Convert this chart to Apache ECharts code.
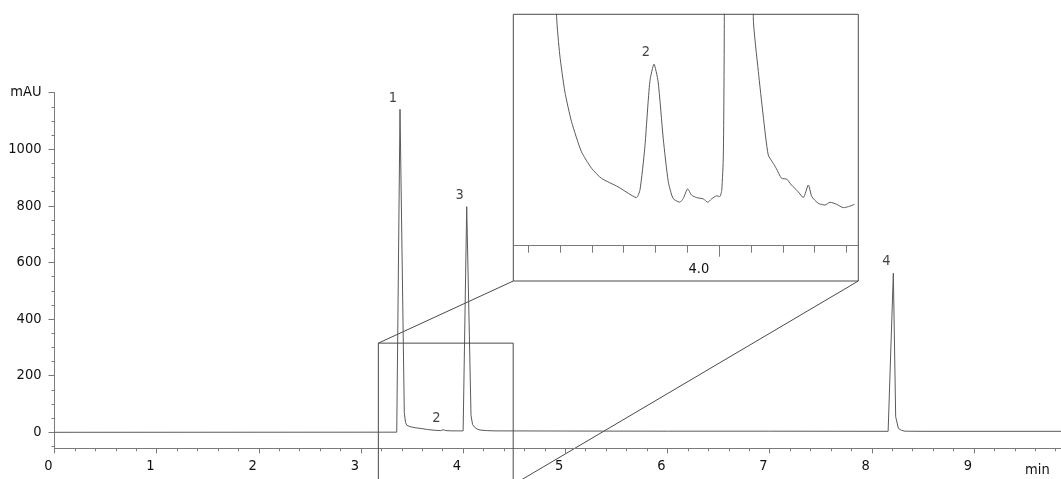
<!DOCTYPE html>
<html>
<head>
<meta charset="utf-8">
<script src="https://cdn.jsdelivr.net/npm/echarts@6.0.0/dist/echarts.min.js"></script>
<style>
  html, body { margin: 0; padding: 0; background: #fff; }
  #chart { width: 1061px; height: 479px; }
</style>
</head>
<body>
<div id="chart"></div>
<script>
// main chromatogram (min, mAU)
const mainTime = [0, 3.35, 3.359, 3.382, 3.424, 3.436, 3.448, 3.48, 3.53, 3.578, 3.65, 3.725, 3.78, 3.806, 3.83, 3.888, 3.95, 4.0, 4.011, 4.035, 4.077, 4.092, 4.109, 4.135, 4.165, 4.23, 4.312, 5.0, 6.0, 7.0, 8.16, 8.169, 8.211, 8.234, 8.26, 8.29, 8.325, 8.5, 10]
const mainAbs = [0, 0.5, 3, 1141, 70, 35, 25, 20, 16, 14, 10, 7, 6, 9, 6, 5, 5, 5, 8, 797, 60, 28, 19, 12, 8, 6, 5, 4.5, 4, 4, 3.5, 4, 562, 55, 14, 7, 4, 3.5, 3.5]

const peakNames = ['1', '2', '3', '4']
const peakTime = [3.382, 3.806, 4.035, 8.211]
const peakAbs = [1141, 9, 797, 562]

// zoomed trace (inset)
const zoomTime = [3.44, 3.47, 3.489, 3.499, 3.515, 3.536, 3.567, 3.599, 3.63, 3.682, 3.714, 3.74, 3.751, 3.766, 3.782, 3.795, 3.808, 3.824, 3.84, 3.855, 3.876, 3.887, 3.901, 3.913, 3.929, 3.95, 3.964, 3.976, 3.992, 4.002, 4.008, 4.013, 4.016, 4.03, 4.09, 4.107, 4.123, 4.138, 4.154, 4.17, 4.179, 4.196, 4.212, 4.227, 4.248, 4.264, 4.28, 4.291, 4.311, 4.332, 4.348, 4.369, 4.39, 4.406, 4.425]
const zoomAbs = [100, 15, 6.91, 5.42, 3.99, 2.82, 1.66, 1.01, 0.62, 0.29, 0.04, -0.13, 0.17, 1.79, 4.38, 5.06, 4.38, 2.18, 0.49, -0.16, -0.31, -0.16, 0.21, -0.03, -0.13, -0.18, -0.31, -0.18, -0.06, -0.09, 0.17, 1.53, 6.91, 300, 300, 6.91, 4.77, 3.08, 1.53, 1.2, 1.01, 0.62, 0.59, 0.36, 0.1, -0.13, 0.36, -0.09, -0.35, -0.42, -0.31, -0.39, -0.52, -0.48, -0.39]
const zoomPeakNames = ['2']
const zoomPeakTime = [3.795]
const zoomPeakAbs = [5.06]

// ticks
const yMajorTicks = [0, 200, 400, 600, 800, 1000, 1200]
const yMinorTicks = [-50, 50, 100, 150, 250, 300, 350, 450, 500, 550, 650, 700, 750, 850, 900, 950, 1050, 1100, 1150]
const zoomMinorTicks = [3.4, 3.5, 3.6, 3.7, 3.8, 3.9, 4.1, 4.2, 4.3, 4.4]
const zoomMajorTicks = [4.0]

// zoom window marked on the main chart
const zoomWindow = [3.17, 4.49]
const zoomRectAbs = [-185, 315]
const zoomRange = [3.353, 4.437]
const zoomAbsRange = [-2, 7]

const FONT = "'DejaVu Sans Condensed', 'DejaVu Sans', sans-serif"
const AXIS = '#7a7a7a'
const TRACE = '#5a5a5a'
const TEXT = '#111'

const chart = echarts.init(document.getElementById('chart'))

const labelStyle = {
  color: TEXT,
  fontSize: 14.5,
  fontFamily: FONT
}

chart.setOption({
  animation: false,
  backgroundColor: '#fff',
  grid: [
    { left: 54.5, right: -15.1, top: 92.6, bottom: 30.7, outerBoundsMode: 'none', containLabel: false },
    { left: 513.3, right: 202.7, top: 14.3, bottom: 233.3, outerBoundsMode: 'none', containLabel: false }
  ],
  xAxis: [
    {
      gridIndex: 0,
      type: 'value',
      min: 0,
      max: 10,
      interval: 1,
      name: 'min',
      nameLocation: 'end',
      nameGap: -51,
      nameTextStyle: Object.assign({ verticalAlign: 'top', lineHeight: 43 }, labelStyle),
      axisLine: { onZero: false, lineStyle: { color: AXIS, width: 1 } },
      axisTick: { length: 5, lineStyle: { color: AXIS } },
      minorTick: { show: true, splitNumber: 5, length: 3, lineStyle: { color: AXIS } },
      axisLabel: Object.assign({ align: 'right', padding: [0, 2, 0, 0], margin: 10, showMaxLabel: false }, labelStyle),
      splitLine: { show: false }
    },
    {
      gridIndex: 1,
      type: 'value',
      position: 'bottom',
      min: zoomRange[0],
      max: zoomRange[1],
      axisLine: { onZero: false, lineStyle: { color: AXIS, width: 1 } },
      axisTick: { length: 7, customValues: zoomMinorTicks, lineStyle: { color: AXIS } },
      axisLabel: { show: false },
      splitLine: { show: false }
    },
    {
      gridIndex: 1,
      type: 'value',
      position: 'bottom',
      min: zoomRange[0],
      max: zoomRange[1],
      axisLine: { show: false, onZero: false },
      axisTick: { length: 11, customValues: zoomMajorTicks, lineStyle: { color: AXIS } },
      axisLabel: Object.assign({
        customValues: zoomMajorTicks,
        align: 'right',
        padding: [0, 10, 0, 0],
        margin: 16,
        formatter: v => v.toFixed(1)
      }, labelStyle),
      splitLine: { show: false }
    }
  ],
  yAxis: [
    {
      gridIndex: 0,
      type: 'value',
      position: 'left',
      min: -56.5,
      max: 1200,
      axisLine: { show: true, onZero: false, lineStyle: { color: AXIS, width: 1 } },
      axisTick: { show: true, length: 6, customValues: yMajorTicks, lineStyle: { color: AXIS } },
      axisLabel: Object.assign({
        customValues: yMajorTicks,
        margin: 13,
        formatter: v => (v === 1200 ? 'mAU' : String(v))
      }, labelStyle),
      splitLine: { show: false }
    },
    {
      gridIndex: 0,
      type: 'value',
      position: 'left',
      min: -56.5,
      max: 1200,
      axisLine: { show: false, onZero: false },
      axisTick: { show: true, length: 3, customValues: yMinorTicks, lineStyle: { color: AXIS } },
      axisLabel: { show: false },
      splitLine: { show: false }
    },
    {
      gridIndex: 1,
      type: 'value',
      min: zoomAbsRange[0],
      max: zoomAbsRange[1],
      show: false
    }
  ],
  series: [
    {
      type: 'line',
      xAxisIndex: 0,
      yAxisIndex: 0,
      data: mainTime.map((t, i) => [t, mainAbs[i]]),
      showSymbol: false,
      silent: true,
      lineStyle: { color: TRACE, width: 1 }
    },
    {
      type: 'scatter',
      xAxisIndex: 0,
      yAxisIndex: 0,
      data: peakTime.map((t, i) => [t, peakAbs[i], peakNames[i]]),
      symbolSize: 0,
      silent: true,
      label: Object.assign({
        show: true,
        position: 'top',
        distance: 4,
        offset: [-7, 0],
        formatter: p => p.value[2]
      }, labelStyle)
    },
    {
      // zoom window on the main chart
      type: 'line',
      xAxisIndex: 0,
      yAxisIndex: 0,
      data: [
        [zoomWindow[0], zoomRectAbs[0]],
        [zoomWindow[0], zoomRectAbs[1]],
        [zoomWindow[1], zoomRectAbs[1]],
        [zoomWindow[1], zoomRectAbs[0]]
      ],
      clip: false,
      showSymbol: false,
      silent: true,
      lineStyle: { color: '#4a4a4a', width: 1 }
    },
    {
      type: 'line',
      xAxisIndex: 1,
      yAxisIndex: 2,
      data: zoomTime.map((t, i) => [t, zoomAbs[i]]),
      showSymbol: false,
      silent: true,
      clip: true,
      smooth: 0.2,
      lineStyle: { color: TRACE, width: 1 }
    },
    {
      type: 'scatter',
      xAxisIndex: 1,
      yAxisIndex: 2,
      data: zoomPeakTime.map((t, i) => [t, zoomPeakAbs[i], zoomPeakNames[i]]),
      symbolSize: 0,
      silent: true,
      label: Object.assign({
        show: true,
        position: 'top',
        distance: 4,
        offset: [-8, 0],
        formatter: p => p.value[2]
      }, labelStyle)
    }
  ]
})

// inset frame and the two connector lines
const boxTL = chart.convertToPixel({ gridIndex: 1 }, [zoomRange[0], zoomAbsRange[1]])
const boxBR = chart.convertToPixel({ gridIndex: 1 }, [zoomRange[1], zoomAbsRange[0]])
const boxBottom = boxBR[1] + 35.3
const winTop = chart.convertToPixel({ gridIndex: 0 }, [zoomWindow[0], zoomRectAbs[1]])
const winBottom = chart.convertToPixel({ gridIndex: 0 }, [zoomWindow[1], zoomRectAbs[0]])
const frameStyle = { stroke: '#4a4a4a', lineWidth: 1, fill: null }

chart.setOption({
  graphic: [
    {
      type: 'rect',
      silent: true,
      shape: { x: boxTL[0], y: boxTL[1], width: boxBR[0] - boxTL[0], height: boxBottom - boxTL[1] },
      style: frameStyle
    },
    {
      type: 'line',
      silent: true,
      shape: { x1: winTop[0], y1: winTop[1], x2: boxTL[0], y2: boxBottom },
      style: frameStyle
    },
    {
      type: 'line',
      silent: true,
      shape: { x1: winBottom[0], y1: winBottom[1], x2: boxBR[0], y2: boxBottom },
      style: frameStyle
    }
  ]
})
</script>
</body>
</html>
